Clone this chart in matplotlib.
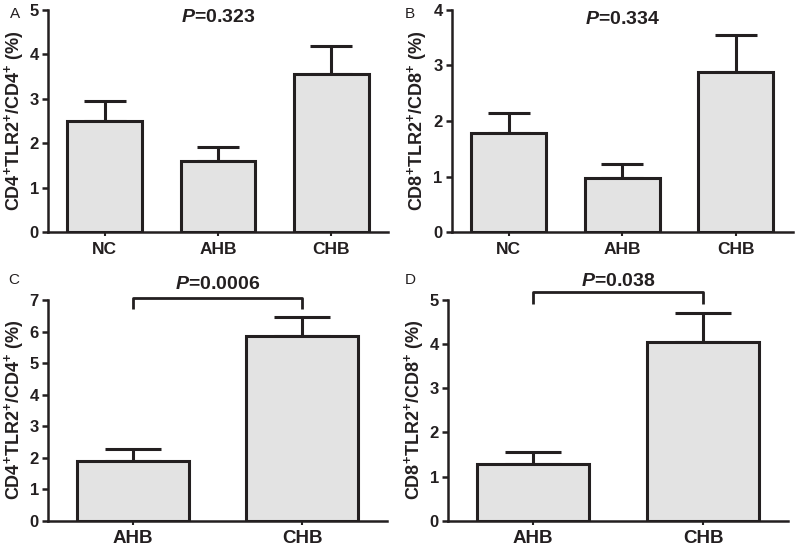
import matplotlib

matplotlib.use("Agg")
import matplotlib.pyplot as plt

# data
groups_top = ["NC", "AHB", "CHB"]
groups_bottom = ["AHB", "CHB"]

cd4_three = [2.50, 1.60, 3.56]
cd4_three_err = [0.44, 0.32, 0.64]
cd8_three = [1.78, 0.97, 2.89]
cd8_three_err = [0.37, 0.26, 0.66]

cd4_two = [1.88, 5.85]
cd4_two_err = [0.38, 0.60]
cd8_two = [1.28, 4.04]
cd8_two_err = [0.27, 0.66]

p_values = ["0.323", "0.334", "0.0006", "0.038"]
ylabels = [
    "CD4$^{+}$TLR2$^{+}$/CD4$^{+}$ (%)",
    "CD8$^{+}$TLR2$^{+}$/CD8$^{+}$ (%)",
    "CD4$^{+}$TLR2$^{+}$/CD4$^{+}$ (%)",
    "CD8$^{+}$TLR2$^{+}$/CD8$^{+}$ (%)",
]

plt.rcParams["font.family"] = "Liberation Sans"
plt.rcParams["font.weight"] = "bold"
plt.rcParams["axes.labelweight"] = "bold"
plt.rcParams["mathtext.fontset"] = "custom"
plt.rcParams["mathtext.rm"] = "Liberation Sans:bold"
plt.rcParams["mathtext.bf"] = "Liberation Sans:bold"
plt.rcParams["mathtext.it"] = "Liberation Sans:italic:bold"

INK = "#231f20"
FILL = "#e3e3e3"

fig = plt.figure(figsize=(8, 5.49), dpi=100)
ax_a = fig.add_axes([0.060, 0.5774, 0.425, 0.4044])
ax_b = fig.add_axes([0.5646, 0.5774, 0.4264, 0.4044])
ax_c = fig.add_axes([0.060, 0.0516, 0.424, 0.402])
ax_d = fig.add_axes([0.560, 0.0516, 0.425, 0.402])


def draw_panel(ax, labels, values, errs, ymax, ylabel, capsize, xsize):
    x = list(range(len(labels)))
    ax.bar(x, values, width=0.66, color=FILL, edgecolor=INK, linewidth=2.2, zorder=2)
    ax.errorbar(x, values, yerr=[[0] * len(values), errs], fmt="none", ecolor=INK,
                elinewidth=2.2, capsize=capsize, capthick=2.2, zorder=1)
    ax.set_xlim(-0.5, len(labels) - 0.5)
    ax.set_ylim(0, ymax)
    ax.set_yticks(range(0, ymax + 1))
    ax.set_xticks(x)
    ax.set_xticklabels(labels, fontweight="bold", fontsize=xsize, color=INK)
    ax.spines["top"].set_visible(False)
    ax.spines["right"].set_visible(False)
    for side in ("left", "bottom"):
        ax.spines[side].set_linewidth(1.8)
        ax.spines[side].set_color(INK)
    ax.tick_params(axis="y", direction="out", length=4.5, width=1.8, labelsize=12, color=INK, pad=2)
    ax.tick_params(axis="x", direction="out", length=3, width=1.5, color=INK, pad=4)
    for lab in ax.get_yticklabels():
        lab.set_fontweight("bold")
        lab.set_color(INK)
    ax.set_ylabel(ylabel, fontsize=13, fontweight="bold", labelpad=3, color=INK)


def bracket(ax, y_top, y_low):
    ax.plot([0, 0, 1, 1], [y_low, y_top, y_top, y_low], color=INK, lw=2.0,
            clip_on=False, solid_capstyle="butt")


draw_panel(ax_a, groups_top, cd4_three, cd4_three_err, 5, ylabels[0], 15, 12.5)
draw_panel(ax_b, groups_top, cd8_three, cd8_three_err, 4, ylabels[1], 15, 12.5)
draw_panel(ax_c, groups_bottom, cd4_two, cd4_two_err, 7, ylabels[2], 20, 13.5)
draw_panel(ax_d, groups_bottom, cd8_two, cd8_two_err, 5, ylabels[3], 20, 13.5)

ax_a.text(1, 4.82, f"$P$={p_values[0]}", ha="center", va="center", fontsize=14, color=INK)
ax_b.text(1, 3.82, f"$P$={p_values[1]}", ha="center", va="center", fontsize=14, color=INK)
ax_c.text(0.5, 7.48, f"$P$={p_values[2]}", ha="center", va="center", fontsize=14, color=INK, clip_on=False)
ax_d.text(0.5, 5.41, f"$P$={p_values[3]}", ha="center", va="center", fontsize=14, color=INK, clip_on=False)

bracket(ax_c, 7.07, 6.7)
bracket(ax_d, 5.17, 4.9)

for letter, xy in zip("ABCD", [(0.012, 0.975), (0.506, 0.975), (0.010, 0.49), (0.506, 0.49)]):
    fig.text(xy[0], xy[1], letter, fontsize=11, fontweight="normal", va="center", ha="left", color=INK)

fig.savefig("out.png", dpi=100)
plt.close(fig)
